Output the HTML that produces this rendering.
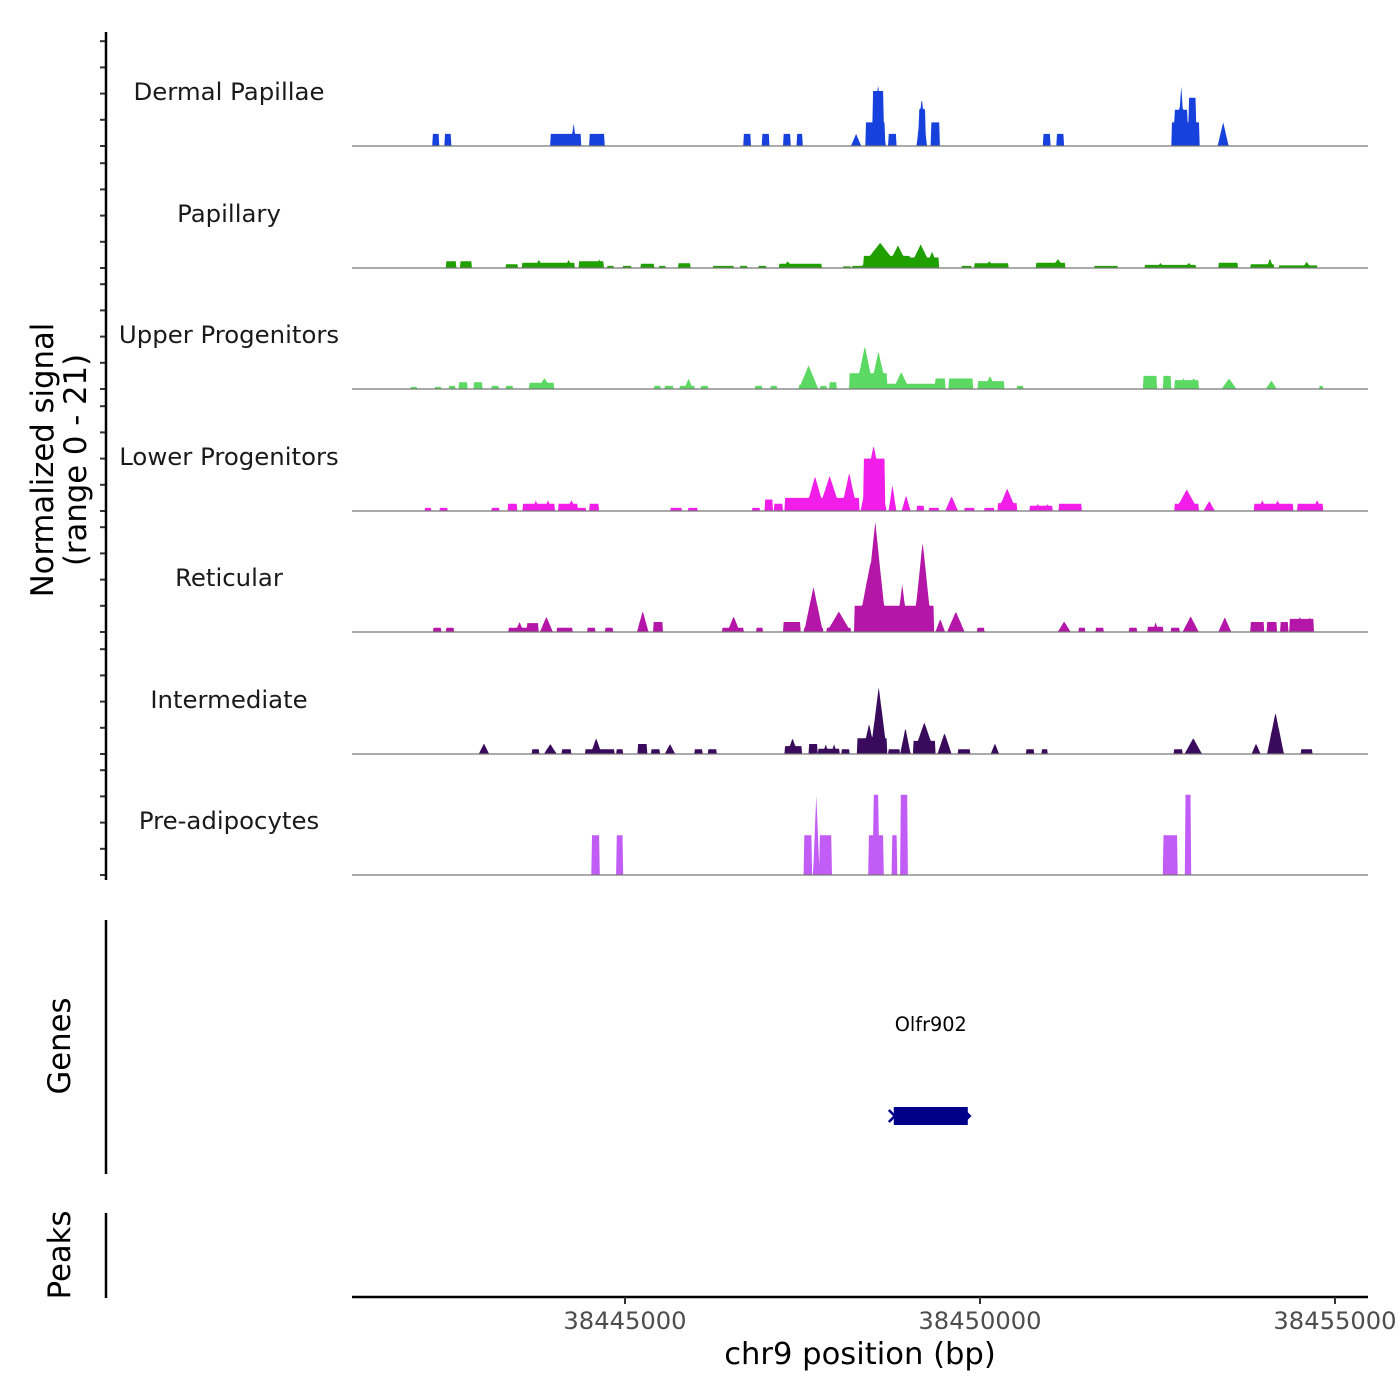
<!DOCTYPE html>
<html><head><meta charset="utf-8">
<style>
html,body{margin:0;padding:0;background:#fff;}
svg{display:block;font-family:"DejaVu Sans","Liberation Sans",sans-serif;}
</style></head>
<body>
<svg id="chart" width="1400" height="1400" viewBox="0 0 1400 1400" xmlns="http://www.w3.org/2000/svg">
  <g id="tracks"></g>
  <g id="axes"></g>
  <text transform="translate(53,460) rotate(-90)" text-anchor="middle" font-size="30.7" fill="#000">Normalized signal</text>
  <text transform="translate(86,460) rotate(-90)" text-anchor="middle" font-size="30.7" fill="#000">(range 0 - 21)</text>
  <line x1="106" y1="920" x2="106" y2="1174" stroke="#000" stroke-width="2.5"/>
  <text transform="translate(70,1046) rotate(-90)" text-anchor="middle" font-size="30.7" fill="#000">Genes</text>
  <line x1="106" y1="1213" x2="106" y2="1298" stroke="#000" stroke-width="2.5"/>
  <text transform="translate(70,1255) rotate(-90)" text-anchor="middle" font-size="30.7" fill="#000">Peaks</text>
  <g id="genes"></g>
  <text x="860" y="1364" text-anchor="middle" font-size="30.6" fill="#000">chr9 position (bp)</text>
</svg>
<script>
// region & scales
const REGION_OFFSET = 38441000;      // positions below are offsets from this
const domainStart = 155, domainEnd = 14465;
const xTicks = [38445000, 38450000, 38455000];
const xTickLabels = ["38445000", "38450000", "38455000"];
const yTicks = [0, 5, 10, 15, 20];
const trackNames = ["Dermal Papillae","Papillary","Upper Progenitors","Lower Progenitors","Reticular","Intermediate","Pre-adipocytes"];
const trackColors = ["#1741dc","#1f9f00","#5bd962","#f01ee8","#b416a8","#3a0a5c","#c25cf6"];
// blocks: [start, end, value, shape(0 flat,1 peak)]
const dermalPapillae = [[1290,1382,2.3,0],[1464,1546,2.3,0],[2948,3379,2.3,0],[3240,3315,4.5,1],[3498,3709,2.3,0],[5669,5770,2.3,0],[5926,6026,2.3,0],[6227,6328,2.3,0],[6420,6502,2.3,0],[7182,7328,2.3,1],[7390,7658,4.5,0],[7492,7638,10.5,0],[7455,7675,11.5,1],[7712,7822,2.3,0],[8107,8253,9.2,1],[8142,8226,7,0],[8308,8427,4.5,0],[9893,9992,2.3,0],[10084,10176,2.3,0],[11696,12091,4.5,0],[11744,11917,6.9,0],[11778,11890,11.5,1],[11944,12036,9.2,0],[12347,12503,4.5,1]];
const papillary = [[1484,1620,1.3,0],[1685,1841,1.3,0],[2325,2491,0.7,0],[2546,3287,1.0,0],[2729,2846,1.6,1],[3158,3256,1.6,1],[3352,3699,1.3,0],[3588,3685,1.7,1],[3746,3838,0.4,0],[3974,4086,0.4,0],[4222,4406,0.8,0],[4478,4570,0.4,0],[4753,4917,0.9,0],[5239,5532,0.4,0],[5624,5716,0.4,0],[5880,5991,0.4,0],[6174,6768,0.8,0],[6223,6360,1.3,1],[7070,7182,0.3,0],[7199,8417,0.4,0],[7363,8005,2.3,0],[7318,7869,4.8,1],[7685,8005,4.3,1],[8005,8417,2.0,0],[8005,8325,4.5,1],[8234,8417,3.1,1],[8737,8876,0.4,0],[8921,9397,0.9,0],[9053,9210,1.3,1],[9791,10203,1.0,0],[10010,10186,1.7,1],[10615,10937,0.4,0],[11322,12036,0.6,0],[11493,11591,1.0,1],[11884,12001,1.0,1],[12356,12632,1.0,0],[12815,13135,0.7,0],[13036,13133,1.8,1],[13209,13748,0.5,0],[13543,13660,1.2,1]];
const upperProgenitors = [[978,1070,0.4,0],[1318,1409,0.4,0],[1519,1610,0.6,0],[1665,1776,1.3,0],[1868,1987,1.3,0],[2124,2216,0.6,0],[2325,2417,0.6,0],[2647,2995,1.2,0],[2768,2963,2.1,1],[4406,4497,0.6,0],[4560,4679,0.6,0],[4771,4982,0.6,0],[4837,4954,2.0,1],[5073,5165,0.6,0],[5835,5926,0.6,0],[6046,6137,0.6,0],[6448,6723,4.5,1],[6448,6539,0.8,0],[6750,6842,0.6,0],[6879,6978,1.3,0],[7162,7685,3.0,0],[7254,7502,8.2,1],[7455,7685,7.2,1],[7685,8372,1.0,0],[7777,8005,3.2,1],[8372,8509,2.0,0],[8556,8903,2.0,0],[8741,8858,2.2,1],[8968,9335,1.5,0],[9053,9229,2.5,1],[9516,9608,0.6,0],[11304,11486,2.5,0],[11579,11689,2.5,0],[11744,12081,1.7,0],[11825,11903,2.2,1],[11962,12059,2.2,1],[12403,12614,2.0,1],[13026,13182,1.6,1],[13777,13832,0.6,0]];
const lowerProgenitors = [[1181,1273,0.6,0],[1392,1501,0.6,0],[2124,2233,0.6,0],[2352,2481,1.4,0],[2563,3012,1.4,0],[2700,2788,2.1,1],[2866,2963,2.1,1],[3059,3334,1.4,0],[3178,3315,2.1,1],[3334,3451,0.6,0],[3498,3627,1.4,0],[4644,4798,0.6,0],[4890,5019,0.6,0],[5788,5899,0.6,0],[5971,6081,2.2,0],[6100,6219,1.4,0],[6246,7043,2.5,0],[6539,6815,6.6,1],[6723,7043,6.7,1],[7043,7273,7.3,1],[7043,7297,2.5,0],[7363,7658,10,0],[7318,7685,12.5,1],[7712,7822,5.0,1],[7896,8023,3.0,1],[8115,8206,1.0,0],[8280,8417,0.6,0],[8509,8692,2.8,1],[8784,8917,0.6,0],[9059,9196,0.6,0],[9251,9516,1.5,0],[9251,9516,4.3,1],[9700,10020,1.0,0],[9776,9854,1.4,1],[9912,9990,1.4,1],[10111,10434,1.4,0],[11744,12081,1.4,0],[11744,12081,4.1,1],[12146,12311,1.9,1],[12860,13410,1.4,0],[12918,13036,2.1,1],[13133,13250,2.1,1],[13475,13832,1.4,0],[13680,13816,2.1,1]];
const reticular = [[1300,1409,0.8,0],[1484,1593,0.8,0],[2362,2620,0.8,0],[2456,2573,1.9,1],[2620,2784,1.7,0],[2801,2985,2.9,1],[3039,3260,0.8,0],[3471,3580,0.8,0],[3717,3828,0.8,0],[4168,4332,4.0,1],[4396,4533,1.9,0],[5366,5669,0.8,0],[5442,5618,3.0,1],[5852,5944,0.8,0],[6227,6465,1.9,0],[6522,6787,8.6,1],[6522,6787,0.8,0],[6842,7182,3.9,1],[6842,7182,0.8,0],[7234,8353,5.0,0],[7363,7687,21,1],[7271,7638,13,1],[7822,7988,9.0,1],[8060,8325,17.2,1],[8372,8509,2.5,1],[8536,8784,3.9,1],[8958,9059,0.8,0],[10094,10277,2.0,1],[10387,10478,0.8,0],[10635,10736,0.8,0],[11101,11212,0.8,0],[11359,11579,1.0,0],[11435,11513,1.9,1],[11689,11806,0.8,0],[11853,12081,3.0,1],[12356,12540,2.8,1],[12815,12999,1.9,0],[13043,13182,1.9,0],[13227,13336,1.9,0],[13363,13703,2.5,0],[13465,13543,3.0,1],[13602,13680,3.0,1]];
const intermediate = [[1940,2087,2.0,1],[2692,2793,0.9,0],[2858,3039,1.9,1],[3113,3242,0.9,0],[3443,3846,0.9,0],[3516,3672,3.0,1],[3883,3974,0.9,0],[4185,4314,1.9,0],[4369,4488,0.9,0],[4560,4708,1.9,1],[4982,5093,0.9,0],[5175,5294,0.9,0],[6246,6493,1.5,0],[6282,6438,3.0,1],[6586,6705,1.9,0],[6723,7016,1.0,0],[6789,6867,1.9,1],[6906,6984,1.9,1],[7053,7162,0.9,0],[7271,7685,3.0,0],[7455,7693,12.8,1],[7346,7529,5.8,1],[7712,7869,0.9,0],[7876,8023,5.0,1],[8060,8372,2.5,0],[8060,8372,6.0,1],[8400,8601,4.0,1],[8692,8856,0.9,0],[9151,9270,2.0,1],[9655,9764,0.9,0],[9873,9947,0.9,0],[11734,11853,0.9,0],[11880,12128,3.0,1],[12825,12952,2.0,1],[13043,13281,7.9,1],[13520,13684,0.9,0]];
const preAdipocytes = [[3535,3644,7.6,0],[3883,3974,7.6,0],[6522,6631,7.6,0],[6649,6740,15.3,1],[6740,6906,7.6,0],[7427,7638,7.6,0],[7502,7574,15.3,0],[7757,7832,7.6,0],[7876,7978,15.3,0],[11579,11780,7.6,0],[11890,11972,15.3,0]];
const trackData = [dermalPapillae,papillary,upperProgenitors,lowerProgenitors,reticular,intermediate,preAdipocytes];
const trackKeys = ["dermal-papillae","papillary","upper-progenitors","lower-progenitors","reticular","intermediate","pre-adipocytes"];
// gene
const geneName = "Olfr902";
const geneStart = 38448786, geneEnd = 38449828;

const NS = "http://www.w3.org/2000/svg";
const X0 = 352, X1 = 1368;
function xScale(bp){ return X0 + (bp - REGION_OFFSET - domainStart) / (domainEnd - domainStart) * (X1 - X0); }
const baselines = [146,268,389,511,632,754,875];
const PX_PER_UNIT = 5.24;
function yScale(v, i){ return baselines[i] - v * PX_PER_UNIT; }
function mk(tag, attrs, parent){ const e = document.createElementNS(NS, tag); for (const k in attrs) e.setAttribute(k, attrs[k]); parent.appendChild(e); return e; }

const tracksG = document.getElementById('tracks');
const axesG = document.getElementById('axes');
const STEP = 10;
trackData.forEach((blocks, i) => {
  const g = mk('g', {}, tracksG);
  
  
  let d = `M${xScale(REGION_OFFSET+domainStart).toFixed(1)},${baselines[i]}`;
  for (let p = domainStart; p <= domainEnd; p += STEP) {
    let v = 0;
    for (const b of blocks) {
      if (p >= b[0] && p <= b[1]) {
        let val = b[2];
        if (b[3] === 1) { const t = (p - b[0]) / (b[1] - b[0]); val = b[2] * (1 - Math.abs(2*t - 1)); }
        if (val > v) v = val;
      }
    }
    d += `L${xScale(REGION_OFFSET+p).toFixed(1)},${yScale(v,i).toFixed(1)}`;
  }
  d += `L${xScale(REGION_OFFSET+domainEnd).toFixed(1)},${baselines[i]}Z`;
  const area = mk('path', {d: d, fill: trackColors[i], stroke: 'none'}, g);
  
  
  const bl = mk('line', {x1: X0, x2: X1, y1: baselines[i], y2: baselines[i], stroke: '#777', 'stroke-width': 1.2}, g);
  
  
  const lab = mk('text', {x: 229, y: baselines[i] - 46, 'text-anchor': 'middle', 'font-size': 24.4, fill: '#1a1a1a'}, g);
  lab.textContent = trackNames[i];
  
  
  yTicks.forEach(t => {
    const tk = mk('line', {x1: 100, x2: 106, y1: yScale(t,i), y2: yScale(t,i), stroke: '#333', 'stroke-width': 2}, axesG);
    
    
  });
});
const yAxis = mk('line', {x1: 106, x2: 106, y1: 32, y2: 880, stroke: '#000', 'stroke-width': 2.5}, axesG);


const xAxis = mk('line', {x1: X0, x2: X1, y1: 1297, y2: 1297, stroke: '#000', 'stroke-width': 2.5}, axesG);


xTicks.forEach((t, j) => {
  const x = xScale(t);
  const tk = mk('line', {x1: x, x2: x, y1: 1297, y2: 1304, stroke: '#333', 'stroke-width': 2}, axesG);
  
  
  const tl = mk('text', {x: x, y: 1329, 'text-anchor': 'middle', 'font-size': 24.2, fill: '#4d4d4d'}, axesG);
  tl.textContent = xTickLabels[j];
  
  
});
const genesG = document.getElementById('genes');
const gx0 = xScale(geneStart), gx1 = xScale(geneEnd);
const gr = mk('rect', {x: gx0, y: 1107, width: gx1 - gx0, height: 18, fill: '#00008b'}, genesG);


const ch = mk('path', {d: `M${gx0-5},${1110} L${gx0+1},${1116} L${gx0-5},${1122} M${gx1-2},${1112} L${gx1+2},${1116} L${gx1-2},${1120}`, stroke: '#00008b', 'stroke-width': 2.5, fill: 'none'}, genesG);


const gl = mk('text', {x: (gx0 + gx1) / 2, y: 1031, 'text-anchor': 'middle', 'font-size': 19.3, fill: '#000'}, genesG);
gl.textContent = geneName;


</script>
</body></html>
